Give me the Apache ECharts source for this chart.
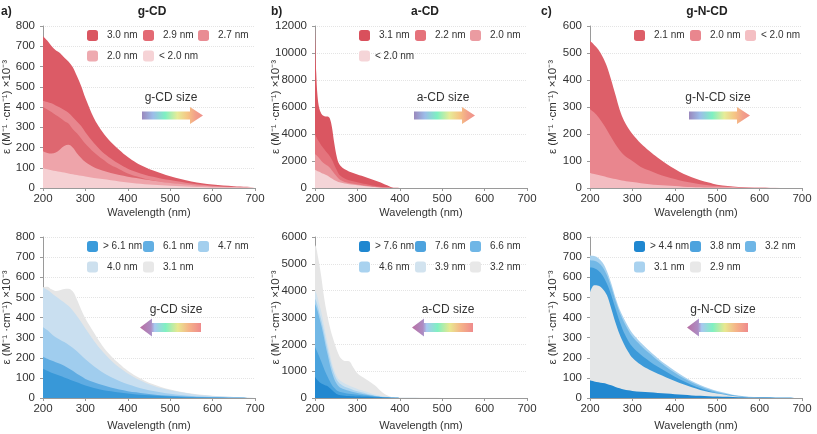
<!DOCTYPE html>
<html><head><meta charset="utf-8">
<script src="https://cdn.jsdelivr.net/npm/echarts@6/dist/echarts.min.js"></script>
<style>html,body{margin:0;padding:0;background:#fff}#c{width:817px;height:434px}</style>
</head><body><div id="c"></div>
<script>
// ---- wavelength grids (nm) ----
const wlA = [200,210,220,230,240,250,260,270,280,290,300,320,340,360,380,400,420,440,460,480,500,550,600,650,700];
const wlB = [200,203,206,210,215,220,225,230,235,240,245,250,255,260,270,280,290,300,310,320,330,340,350,360,370,380,390,400,450,500,600,700];
const xTicks = [200,300,400,500,600,700];

// ---- a) g-CD (top) ----
const a_30 = [750,728,701,680,667,645,625,598,553,504,444,346,278,227,188,153,125,104,86,71,58,32,17,9,5];
const a_29 = [430,425,418,407,397,385,372,351,328,306,275,222,178,146,118,95,79,66,55,46,39,22,11,5,2];
const a_27 = [400,388,375,360,347,331,318,291,270,245,219,177,143,113,93,72,58,46,37,30,24,13,6,3,1];
const a_20 = [182,173,170,175,190,207,213,200,172,148,128,102,86,74,64,56,49,42,36,30,25,15,8,4,2];
const a_lt = [97,92,88,84,80,76,72,68,64,60,57,50,44,38,32,27,22,19,16,13,11,6,3,2,1];

// ---- b) a-CD (top) ----
const b_31 = [12000,8500,6800,5900,5500,5350,5300,5300,5150,4500,3400,2500,1900,1650,1380,1230,1120,1000,900,800,680,570,460,340,200,60,10,0,0,0,0,0];
const b_22 = [4000,3800,3600,3400,3150,2950,2750,2550,2350,2100,1750,1400,1100,900,700,580,500,420,350,290,230,170,110,60,25,5,0,0,0,0,0,0];
const b_20 = [2500,2450,2350,2200,2000,1850,1750,1650,1500,1300,1100,900,720,600,450,370,310,260,210,170,130,90,55,25,10,2,0,0,0,0,0,0];
const b_lt = [1350,1300,1250,1200,1120,1050,980,900,800,700,600,520,450,400,330,280,240,200,165,130,100,70,45,25,10,3,0,0,0,0,0,0];

// ---- c) g-N-CD (top) ----
const c_21 = [545,530,512,485,450,400,345,290,250,222,200,165,137,112,90,70,53,40,29,20,12,4,1,0,0];
const c_20 = [292,280,262,240,215,188,162,140,122,110,100,78,65,52,42,33,25,19,14,10,7,2,1,0,0];
const c_lt = [56,52,48,44,40,36,33,30,27,24,22,18,14,11,9,7,5,4,3,2,1.5,1,0.5,0,0];

// ---- d) g-CD (bottom) ----
const d_31 = [550,553,540,532,536,542,543,530,490,440,395,325,260,210,170,135,108,86,68,53,42,22,11,5,2];
const d_40 = [548,538,522,505,490,475,458,435,408,378,345,285,232,188,152,122,97,77,61,48,38,20,10,5,2];
const d_47 = [352,338,318,302,290,278,265,250,232,212,192,158,128,104,84,68,55,44,35,27,21,10,5,2,1];
const d_61 = [205,195,186,178,170,160,148,135,120,108,95,78,64,52,42,34,28,22,18,14,11,6,3,1,0];
const d_gt = [145,135,125,118,110,102,95,86,78,70,62,50,40,33,27,22,18,15,12,10,8,4,2,1,0];

// ---- e) a-CD (bottom) ----
const e_32 = [5700,5600,5350,5000,4500,3900,3400,3000,2650,2350,2100,1850,1650,1500,1380,1370,1150,920,800,700,600,480,340,200,100,40,15,8,5,3,2,1];
const e_39 = [4000,3900,3750,3500,3200,2800,2400,2000,1650,1300,1050,850,720,640,540,470,400,340,290,240,190,140,100,70,45,25,12,6,3,2,1,0];
const e_46 = [3700,3600,3450,3200,2900,2550,2150,1800,1450,1150,900,720,600,520,420,360,300,250,210,170,130,95,65,40,25,12,6,3,2,1,0,0];
const e_66 = [3500,3400,3250,3000,2700,2350,1950,1600,1250,950,720,560,450,380,320,270,225,190,160,130,100,75,50,30,18,8,4,2,1,1,0,0];
const e_76 = [1900,1800,1700,1550,1350,1150,950,780,620,480,380,300,250,220,190,160,140,120,105,90,75,60,45,30,20,10,5,3,1,1,0,0];
const e_gt = [780,720,660,600,540,500,470,440,370,300,220,160,120,100,85,75,65,55,48,42,36,30,25,20,15,10,6,4,2,1,0,0];

// ---- f) g-N-CD (bottom) ----
const f_31 = [708,705,695,672,630,570,500,440,395,355,322,275,235,198,165,135,108,85,65,48,35,12,3,1,0];
const f_32 = [685,682,672,650,610,552,485,425,378,338,305,260,222,186,154,125,99,77,58,42,30,10,2,1,0];
const f_38 = [648,645,632,608,568,512,445,380,325,285,255,215,183,155,130,106,84,65,49,35,24,8,2,0,0];
const f_29 = [525,560,558,542,510,445,375,315,268,230,200,165,140,120,102,85,68,53,40,30,22,7,2,0,0];
const f_gt = [88,82,78,74,70,63,55,48,42,38,35,31,28,25,22,19,16,13,11,9,7,4,2,1,0];

const fam = "'Liberation Sans', Arial, Helvetica, sans-serif";
const yName = 'ε (M⁻¹ ·cm⁻¹) ×10⁻³';

// panels: series in drawing order (back to front); legend order separately
const panels = [
  {L:43, T:26, H:162, ymax:800, yint:100, dir:'right', arrowText:'g-CD size', row:0, ng:30,
   series:[
     {lab:'3.0 nm', xs:wlA, ys:a_30, area:'#dc5b66', leg:'#da5661'},
     {lab:'2.9 nm', xs:wlA, ys:a_29, area:'#e8868e', leg:'#e36a74'},
     {lab:'2.7 nm', xs:wlA, ys:a_27, area:'#de6770', leg:'#e98c93'},
     {lab:'2.0 nm', xs:wlA, ys:a_20, area:'#eea4aa', leg:'#eeaab0'},
     {lab:'< 2.0 nm', xs:wlA, ys:a_lt, area:'#f5d0d3', leg:'#f6d3d6'}],
   legend:['3.0 nm','2.9 nm','2.7 nm','2.0 nm','< 2.0 nm']},
  {L:315, T:26, H:162, ymax:12000, yint:2000, dir:'right', arrowText:'a-CD size', row:0, ng:33,
   series:[
     {lab:'3.1 nm', xs:wlB, ys:b_31, area:'#da5661', leg:'#d9505c'},
     {lab:'2.2 nm', xs:wlB, ys:b_22, area:'#e4737c', leg:'#e5727b'},
     {lab:'2.0 nm', xs:wlB, ys:b_20, area:'#ea9aa0', leg:'#eb9ba1'},
     {lab:'< 2.0 nm', xs:wlB, ys:b_lt, area:'#f4d4d7', leg:'#f5d5d8'}],
   legend:['3.1 nm','2.2 nm','2.0 nm','< 2.0 nm']},
  {L:590, T:26, H:162, ymax:600, yint:100, dir:'right', arrowText:'g-N-CD size', row:0, ng:31,
   series:[
     {lab:'2.1 nm', xs:wlA, ys:c_21, area:'#dd5f69', leg:'#dd5e68'},
     {lab:'2.0 nm', xs:wlA, ys:c_20, area:'#e9868e', leg:'#e9868e'},
     {lab:'< 2.0 nm', xs:wlA, ys:c_lt, area:'#f3bcc1', leg:'#f4bfc3'}],
   legend:['2.1 nm','2.0 nm','< 2.0 nm']},
  {L:43, T:237, H:161, ymax:800, yint:100, dir:'left', arrowText:'g-CD size', row:1, ng:30,
   series:[
     {lab:'3.1 nm', xs:wlA, ys:d_31, area:'#e6e6e6', leg:'#e8e8e8'},
     {lab:'4.0 nm', xs:wlA, ys:d_40, area:'#c9dff0', leg:'#cde0ee'},
     {lab:'4.7 nm', xs:wlA, ys:d_47, area:'#a0cdee', leg:'#a3cfee'},
     {lab:'6.1 nm', xs:wlA, ys:d_61, area:'#5facE2', leg:'#62afe3'},
     {lab:'> 6.1 nm', xs:wlA, ys:d_gt, area:'#3898d8', leg:'#3a9bdb'}],
   legend:['> 6.1 nm','6.1 nm','4.7 nm','4.0 nm','3.1 nm']},
  {L:315, T:237, H:161, ymax:6000, yint:1000, dir:'left', arrowText:'a-CD size', row:1, ng:33,
   series:[
     {lab:'3.2 nm', xs:wlB, ys:e_32, area:'#e6e6e6', leg:'#e8e8e8'},
     {lab:'3.9 nm', xs:wlB, ys:e_39, area:'#d0e2ee', leg:'#d2e3ef'},
     {lab:'4.6 nm', xs:wlB, ys:e_46, area:'#a8d2ef', leg:'#a9d2ef'},
     {lab:'6.6 nm', xs:wlB, ys:e_66, area:'#72b8e6', leg:'#6fb6e6'},
     {lab:'7.6 nm', xs:wlB, ys:e_76, area:'#49a2dd', leg:'#4da3de'},
     {lab:'> 7.6 nm', xs:wlB, ys:e_gt, area:'#2288d0', leg:'#1f87d0'}],
   legend:['> 7.6 nm','7.6 nm','6.6 nm','4.6 nm','3.9 nm','3.2 nm']},
  {L:590, T:237, H:161, ymax:800, yint:100, dir:'left', arrowText:'g-N-CD size', row:1, ng:31,
   series:[
     {lab:'3.1 nm', xs:wlA, ys:f_31, area:'#a8d2ef', leg:'#a9d2ef'},
     {lab:'3.2 nm', xs:wlA, ys:f_32, area:'#72b8e6', leg:'#6fb6e6'},
     {lab:'3.8 nm', xs:wlA, ys:f_38, area:'#3c9ad9', leg:'#4da3de'},
     {lab:'2.9 nm', xs:wlA, ys:f_29, area:'#e4e6e7', leg:'#e8e8e8'},
     {lab:'> 4.4 nm', xs:wlA, ys:f_gt, area:'#2288d0', leg:'#1f87d0'}],
   legend:['> 4.4 nm','3.8 nm','3.2 nm','3.1 nm','2.9 nm']}
];

const grids = [], xAxes = [], yAxes = [], series = [], legends = [], graphics = [];
const colX = [44, 100, 155];
panels.forEach((p, i) => {
  const W = 212;
  grids.push({left:p.L, top:p.T, width:W, height:p.H});
  xAxes.push({type:'value', gridIndex:i, min:200, max:700, interval:100,
    name:'Wavelength (nm)', nameLocation:'middle', nameGap: p.row ? 22 : 19,
    nameTextStyle:{fontFamily:fam, fontSize:11, color:'#333'},
    axisLine:{show:true, lineStyle:{color:'#9a9a9a', width:1}},
    axisTick:{show:true, length:3, lineStyle:{color:'#9a9a9a'}},
    axisLabel:{fontFamily:fam, fontSize:11.5, color:'#333', margin:5, formatter:v=>String(v)},
    splitLine:{show:false}});
  yAxes.push({type:'value', gridIndex:i, min:0, max:p.ymax, interval:p.yint,
    name:yName, nameLocation:'middle', nameGap:p.ng, nameRotate:90, nameMoveOverlap:false,
    nameTextStyle:{fontFamily:fam, fontSize:11.5, color:'#333'},
    axisLine:{show:true, lineStyle:{color:'#9a9a9a', width:1}},
    axisTick:{show:true, length:3, lineStyle:{color:'#9a9a9a'}},
    axisLabel:{fontFamily:fam, fontSize:11.5, color:'#333', margin:8, formatter:v=>String(v)},
    splitLine:{show:true, lineStyle:{color:'#e4e4e4', type:'dotted', width:1}}});
  p.series.forEach((s, k) => {
    series.push({type:'line', name:i+'|'+s.lab, xAxisIndex:i, yAxisIndex:i,
      data:s.xs.map((x, j) => [x, s.ys[j]]),
      smooth:0.35, symbol:'none', silent:true, z:2+k,
      lineStyle:{width:0}, itemStyle:{color:s.leg},
      areaStyle:{color:s.area, opacity:1}});
  });
  p.legend.forEach((lab, k) => {
    const col = k % 3, r = Math.floor(k / 3);
    const edge = lab[0] === '<' || lab[0] === '>';
    legends.push({data:[i+'|'+lab], left:p.L + colX[col], top:p.T + (r ? 30.5 : 10) - 6,
      padding:0, itemWidth:11, itemHeight:11, icon:'roundRect', selectedMode:false,
      formatter:n => n.split('|')[1],
      textStyle:{fontFamily:fam, fontSize:10, color:'#333', padding:[0,0,0, edge ? 0 : 4]}});
  });
  // size arrow
  let pts, stops, tx;
  if (p.dir === 'right') {
    const x0 = p.L + 99, x1 = p.L + 147, x2 = p.L + 160, yc = p.T + 89.5;
    pts = [[x0,yc-4],[x1,yc-4],[x1,yc-8.5],[x2,yc],[x1,yc+8.5],[x1,yc+4],[x0,yc+4]];
    stops = [[0,'#9a88bd'],[0.18,'#9cbde9'],[0.38,'#7ef0c2'],[0.58,'#e6ec98'],[0.75,'#f6c484'],[0.88,'#f2a08a'],[1,'#f0908a']];
    tx = p.L + 128;
  } else {
    const x0 = p.L + 97, x1 = p.L + 109, x2 = p.L + 158, yc = p.T + 90.5;
    pts = [[x0,yc],[x1,yc-9],[x1,yc-4.5],[x2,yc-4.5],[x2,yc+4.5],[x1,yc+4.5],[x1,yc+9]];
    stops = [[0,'#b86fa3'],[0.18,'#ad8cc3'],[0.24,'#a8c8f0'],[0.42,'#80f0c2'],[0.62,'#e8e890'],[0.8,'#f5b488'],[1,'#ef8a8c']];
    tx = p.L + 133;
  }
  graphics.push({type:'polygon', shape:{points:pts}, silent:true,
    style:{fill:{type:'linear', x:0, y:0, x2:1, y2:0, colorStops:stops.map(s => ({offset:s[0], color:s[1]}))}}});
  graphics.push({type:'text', x:tx, y:p.T + (p.row ? 73 : 72), silent:true,
    style:{text:p.arrowText, fontFamily:fam, fontSize:12, fill:'#333', align:'center', verticalAlign:'middle'}});
});

// panel tags and titles
[['a)',1,12,'left'],['b)',271,12,'left'],['c)',541,12,'left'],
 ['g-CD',152,12,'center'],['a-CD',425,12,'center'],['g-N-CD',707,12,'center']].forEach(t => {
  graphics.push({type:'text', x:t[1], y:t[2], silent:true,
    style:{text:t[0], fontFamily:fam, fontSize:12, fontWeight:'bold', fill:'#222', align:t[3], verticalAlign:'middle'}});
});

const chart = echarts.init(document.getElementById('c'), null, {renderer:'canvas'});
chart.setOption({
  animation:false, backgroundColor:'#fff',
  grid:grids, xAxis:xAxes, yAxis:yAxes, series:series, legend:legends, graphic:graphics
});
</script></body></html>
